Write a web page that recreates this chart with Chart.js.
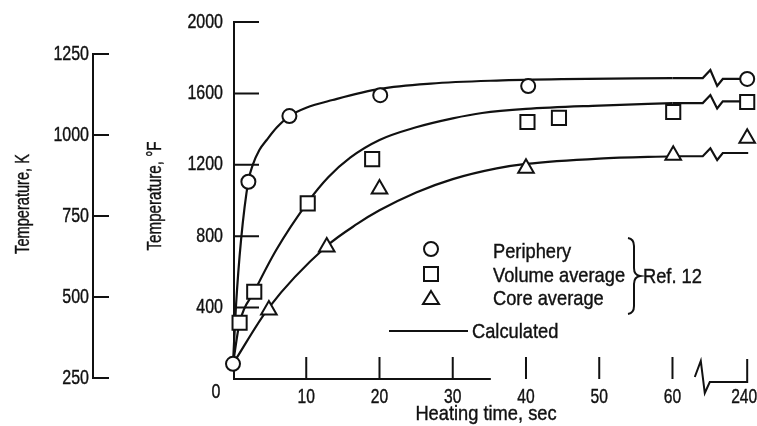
<!DOCTYPE html>
<html>
<head>
<meta charset="utf-8">
<script src="https://cdn.jsdelivr.net/npm/chart.js@4.4.1/dist/chart.umd.min.js"></script>
<style>
  html, body { margin: 0; padding: 0; background: #fff; }
</style>
</head>
<body>
<canvas id="chart" width="757" height="426"></canvas>
<script>
// heating time (sec) vs temperature (deg F)
var LONG_POS = 70.2;        // where the 240-sec column sits on the time axis
var BREAK_POS = 65.5;       // centre of the zigzag on the curves
var AXIS_BREAK_POS = 64.0;  // centre of the zigzag on the time axis
var AXIS_LINE_END = 35.2;   // the drawn time axis stops here

var timeTicks = [10, 20, 30, 40, 50, 60, 240];
var tempTicksF = [0, 400, 800, 1200, 1600, 2000];
var tempTicksK = [250, 500, 750, 1000, 1250];

// Ref. 12 measurements
var peripheryTime = [0, 2.1, 7.7, 20.1, 40.3, 240];
var peripheryTemp = [85, 1105, 1473, 1590, 1641, 1681];

var volumeTime = [0.9, 2.9, 10.2, 19, 40.2, 44.5, 60.1, 240];
var volumeTemp = [315, 489, 984, 1232, 1440, 1463, 1496, 1552];

var coreTime = [4.9, 12.8, 20, 40, 60.1, 240];
var coreTemp = [386, 740, 1064, 1180, 1254, 1349];

// calculated curves
var calcPeripheryTime = [0, 0.4, 1.1, 2.1, 2.7, 3.6, 4.6, 6, 7.7, 10, 13.6, 20, 27, 36, 45, 60, 240];
var calcPeripheryTemp = [85, 405, 779, 1110, 1200, 1283, 1339, 1410, 1473, 1520, 1563, 1625, 1655, 1672, 1680, 1686, 1681];

var calcVolumeTime = [0, 0.9, 2.9, 5.9, 10.2, 13, 16, 20, 25, 30, 34, 40, 50, 60, 240];
var calcVolumeTemp = [85, 315, 489, 723, 990, 1130, 1240, 1339, 1410, 1460, 1490, 1513, 1532, 1546, 1555];

var calcCoreTime = [0, 4.9, 12.8, 17, 20, 25, 30, 36, 40, 50, 60, 240];
var calcCoreTemp = [85, 400, 745, 870, 945, 1045, 1120, 1180, 1205, 1235, 1248, 1266];

var INK = '#111';
var FONT = "'Liberation Sans', Arial, sans-serif";

// everything past the break is the 240 s column
function axisPos(t) {
  return t > 100 ? LONG_POS : t;
}

function points(times, temps, upTo) {
  var out = [];
  for (var i = 0; i < times.length; i++) {
    if (upTo !== undefined && times[i] > upTo) continue;
    out.push({ x: axisPos(times[i]), y: temps[i] });
  }
  return out;
}

function markerSet(label, times, temps, style, radius) {
  return {
    label: label,
    data: points(times, temps),
    showLine: false,
    pointStyle: style,
    pointRadius: radius,
    pointBorderWidth: 2,
    pointBorderColor: INK,
    pointBackgroundColor: '#fff',
    clip: false,
    order: 0
  };
}

function curveSet(label, times, temps) {
  return {
    label: label,
    data: points(times, temps, 60),
    showLine: true,
    pointRadius: 0,
    borderColor: INK,
    borderWidth: 2.2,
    cubicInterpolationMode: 'monotone',
    clip: false,
    order: 1
  };
}

// the figure's lettering is a tall, narrow face: squeeze Liberation Sans to match
function narrowText(ctx, text, x, y, size, squeeze, align, vertical) {
  ctx.save();
  ctx.translate(x, y);
  if (vertical) ctx.rotate(-Math.PI / 2);
  ctx.scale(squeeze, 1);
  ctx.font = size + 'px ' + FONT;
  ctx.fillStyle = INK;
  ctx.strokeStyle = INK;
  ctx.lineWidth = 0.4;
  ctx.textAlign = align;
  ctx.textBaseline = 'middle';
  ctx.fillText(text, 0, 0);
  ctx.strokeText(text, 0, 0);
  ctx.restore();
}

function zigzag(ctx, x0, x1, yStart, yEnd) {
  var w = x1 - x0;
  ctx.lineTo(x0, yStart);
  ctx.lineTo(x0 + w * 0.38, yStart - 8);
  ctx.lineTo(x0 + w * 0.72, yEnd + 7);
  ctx.lineTo(x1, yEnd);
}

var axesPlugin = {
  id: 'axesPlugin',
  beforeDatasetsDraw: function (chart) {
    var ctx = chart.ctx;
    var x = chart.scales.x, y = chart.scales.y, k = chart.scales.yK;
    var area = chart.chartArea;
    var bottom = y.getPixelForValue(0);
    ctx.save();
    ctx.strokeStyle = INK;
    ctx.lineCap = 'butt';

    // deg F axis with inward ticks
    ctx.lineWidth = 2;
    ctx.beginPath();
    ctx.moveTo(area.left + 1, y.getPixelForValue(2000) - 1);
    ctx.lineTo(area.left + 1, bottom + 1);
    tempTicksF.forEach(function (v) {
      if (v === 0) return;
      var py = y.getPixelForValue(v);
      ctx.moveTo(area.left + 1, py);
      ctx.lineTo(area.left + 26, py);
    });
    ctx.stroke();

    // K axis, only between its end ticks
    var kx = k.right;
    ctx.beginPath();
    ctx.moveTo(kx, k.getPixelForValue(tempTicksK[0]) + 1);
    ctx.lineTo(kx, k.getPixelForValue(tempTicksK[tempTicksK.length - 1]) - 1);
    tempTicksK.forEach(function (v) {
      var py = k.getPixelForValue(v);
      ctx.moveTo(kx, py);
      ctx.lineTo(kx + 16, py);
    });
    ctx.stroke();

    // time axis: short line, floating ticks, break, then the 240 s tick
    ctx.beginPath();
    ctx.moveTo(x.getPixelForValue(0), bottom);
    ctx.lineTo(x.getPixelForValue(AXIS_LINE_END), bottom);
    timeTicks.forEach(function (t) {
      if (t > 60) return;
      var px = x.getPixelForValue(t);
      ctx.moveTo(px, bottom - 22);
      ctx.lineTo(px, bottom);
    });
    var ax = x.getPixelForValue(AXIS_BREAK_POS);
    var lx = x.getPixelForValue(LONG_POS);
    ctx.moveTo(ax - 7, bottom - 2);
    ctx.lineTo(ax - 1, bottom - 18);
    ctx.lineTo(ax + 3, bottom + 14);
    ctx.lineTo(ax + 8, bottom + 3);
    ctx.lineTo(lx, bottom + 3);
    ctx.lineTo(lx, bottom - 20);
    ctx.stroke();

    // calculated curves past 60 s: run on, break, finish at 240 s
    ctx.lineWidth = 2.2;
    ctx.lineJoin = 'miter';
    var bx = x.getPixelForValue(BREAK_POS);
    [[calcPeripheryTime, calcPeripheryTemp],
     [calcVolumeTime, calcVolumeTemp],
     [calcCoreTime, calcCoreTemp]].forEach(function (c) {
      var n = c[0].length;
      var y60 = y.getPixelForValue(c[1][n - 2]);
      var yEnd = y.getPixelForValue(c[1][n - 1]);
      ctx.beginPath();
      ctx.moveTo(x.getPixelForValue(c[0][n - 2]), y60);
      zigzag(ctx, bx - 10, bx + 10, y60, yEnd);
      ctx.lineTo(x.getPixelForValue(axisPos(c[0][n - 1])) + 1, yEnd);
      ctx.stroke();
    });
    ctx.restore();
  },
  afterDraw: function (chart) {
    var ctx = chart.ctx;
    var x = chart.scales.x, y = chart.scales.y, k = chart.scales.yK;
    var bottom = y.getPixelForValue(0);

    // tick labels
    y.ticks.forEach(function (t) {
      if (t.value === 0) return;
      narrowText(ctx, String(t.value), y.right - 10, y.getPixelForValue(t.value), 20, 0.8, 'right');
    });
    narrowText(ctx, '0', x.left - 17, bottom + 13, 20, 0.8, 'center');
    k.ticks.forEach(function (t) {
      narrowText(ctx, String(t.value), k.right - 4, k.getPixelForValue(t.value), 20, 0.8, 'right');
    });
    x.ticks.forEach(function (t, i) {
      narrowText(ctx, String(timeTicks[i]), x.getPixelForValue(t.value) - (i === 6 ? 3 : 0), bottom + 18, 20, 0.78, 'center');
    });

    // axis titles
    narrowText(ctx, 'Temperature, K', 23, 204, 20, 0.73, 'center', true);
    narrowText(ctx, 'Temperature, °F', 155, 196, 20, 0.76, 'center', true);
    narrowText(ctx, 'Heating time, sec', 486, 414, 21, 0.87, 'center');

    ctx.save();
    ctx.strokeStyle = INK;
    ctx.lineWidth = 2;

    // legend symbols
    var mx = 431;
    ctx.beginPath();
    ctx.arc(mx, 249, 7, 0, Math.PI * 2);
    ctx.stroke();
    ctx.strokeRect(mx - 7, 267, 14, 14);
    ctx.beginPath();
    ctx.moveTo(mx, 291);
    ctx.lineTo(mx + 8, 304);
    ctx.lineTo(mx - 8, 304);
    ctx.closePath();
    ctx.stroke();

    // brace
    ctx.beginPath();
    ctx.moveTo(628, 238);
    ctx.quadraticCurveTo(634, 239, 634, 246);
    ctx.lineTo(634, 268);
    ctx.quadraticCurveTo(634, 275, 640, 276);
    ctx.quadraticCurveTo(634, 277, 634, 284);
    ctx.lineTo(634, 306);
    ctx.quadraticCurveTo(634, 313, 628, 314);
    ctx.stroke();

    // calculated line key
    ctx.beginPath();
    ctx.moveTo(389, 331);
    ctx.lineTo(468, 331);
    ctx.stroke();
    ctx.restore();

    narrowText(ctx, 'Periphery', 493, 252, 21, 0.87, 'left');
    narrowText(ctx, 'Volume average', 493, 276, 21, 0.87, 'left');
    narrowText(ctx, 'Core average', 493, 299, 21, 0.87, 'left');
    narrowText(ctx, 'Ref. 12', 643, 277, 21, 0.87, 'left');
    narrowText(ctx, 'Calculated', 472, 332, 21, 0.87, 'left');
  }
};

var chart = new Chart(document.getElementById('chart'), {
  type: 'scatter',
  data: {
    datasets: [
      markerSet('Periphery', peripheryTime, peripheryTemp, 'circle', 7),
      markerSet('Volume average', volumeTime, volumeTemp, 'rect', 10),
      markerSet('Core average', coreTime, coreTemp, 'triangle', 9),
      curveSet('Calculated periphery', calcPeripheryTime, calcPeripheryTemp),
      curveSet('Calculated volume average', calcVolumeTime, calcVolumeTemp),
      curveSet('Calculated core average', calcCoreTime, calcCoreTemp)
    ]
  },
  options: {
    responsive: false,
    animation: false,
    layout: { padding: { top: 22, right: 4, bottom: 0, left: 0 } },
    plugins: { legend: { display: false }, tooltip: { enabled: false } },
    scales: {
      x: {
        type: 'linear',
        position: 'bottom',
        min: 0,
        max: 69.9,
        afterBuildTicks: function (scale) {
          scale.ticks = timeTicks.map(function (t) { return { value: axisPos(t) }; });
        },
        afterFit: function (scale) { scale.height = 47; },
        ticks: { display: false },
        grid: { display: false, drawTicks: false },
        border: { display: false }
      },
      y: {
        type: 'linear',
        position: 'left',
        weight: 0,
        min: 0,
        max: 2000,
        afterBuildTicks: function (scale) {
          scale.ticks = tempTicksF.map(function (v) { return { value: v }; });
        },
        afterFit: function (scale) { scale.width = 140; },
        ticks: { display: false },
        grid: { display: false, drawTicks: false },
        border: { display: false }
      },
      yK: {
        type: 'linear',
        position: 'left',
        weight: 1,
        min: 247,
        max: 1349,
        afterBuildTicks: function (scale) {
          scale.ticks = tempTicksK.map(function (v) { return { value: v }; });
        },
        afterFit: function (scale) { scale.width = 93; },
        ticks: { display: false },
        grid: { display: false, drawTicks: false },
        border: { display: false }
      }
    }
  },
  plugins: [axesPlugin]
});
</script>
</body>
</html>
